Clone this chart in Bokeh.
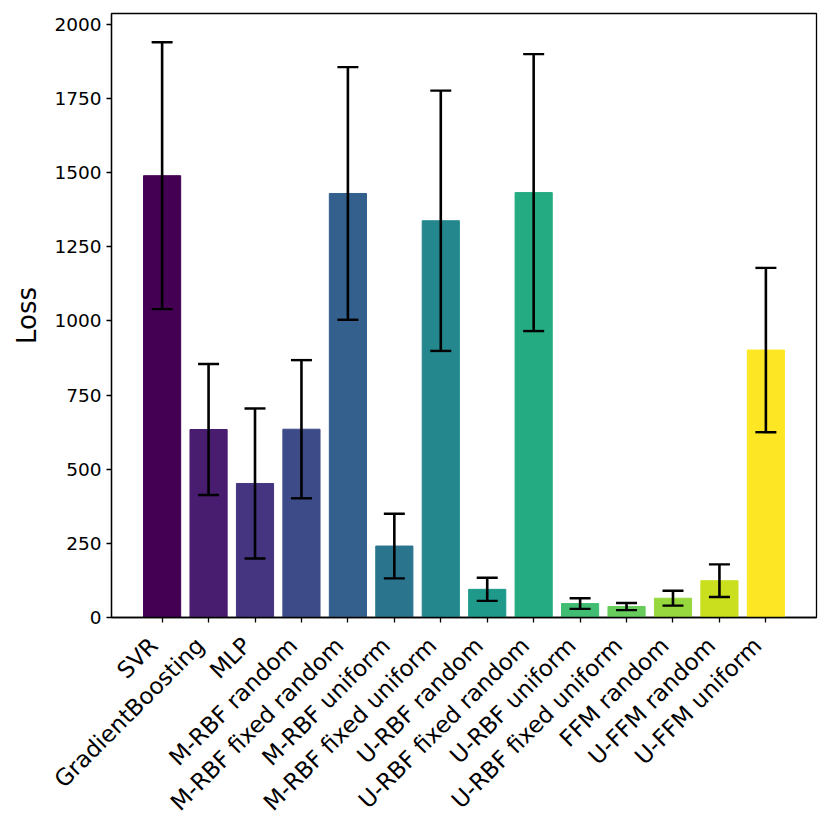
import numpy as np
from bokeh.plotting import figure
from bokeh.models import ColumnDataSource, Whisker, TeeHead, FixedTicker, Range1d, LinearAxis
from bokeh.palettes import Viridis256
from bokeh.embed import file_html
from bokeh.resources import INLINE

models = ["SVR", "GradientBoosting", "MLP", "M-RBF random", "M-RBF fixed random",
          "M-RBF uniform", "M-RBF fixed uniform", "U-RBF random", "U-RBF fixed random",
          "U-RBF uniform", "U-RBF fixed uniform", "FFM random", "U-FFM random", "U-FFM uniform"]
loss_mean = [1490, 634, 452, 635, 1430, 241, 1338, 95, 1433, 47, 37, 65, 124, 902]
loss_std = [450, 221, 253, 233, 426, 109, 439, 39, 467, 18, 12, 25, 55, 277]
y_ticks = [0, 250, 500, 750, 1000, 1250, 1500, 1750, 2000]

n = len(models)
xs = list(range(n))
colors = [Viridis256[int(round(i * 255 / (n - 1)))] for i in range(n)]
upper = [m + s for m, s in zip(loss_mean, loss_std)]
lower = [m - s for m, s in zip(loss_mean, loss_std)]

src = ColumnDataSource(dict(x=xs, top=loss_mean, color=colors, upper=upper, lower=lower))

x_lo, x_hi = -1.09, 14.09
shift = 0.18  # label offset in category units (matplotlib right-aligned rotated bbox)

p = figure(width=822, height=827, output_backend="svg", toolbar_location=None,
           x_range=Range1d(x_lo, x_hi), y_range=Range1d(0, 2037),
           min_border_left=111, min_border_right=6, min_border_top=13, min_border_bottom=210)
p.extra_x_ranges = {"labels": Range1d(x_lo + shift, x_hi + shift)}

p.vbar(x="x", top="top", width=0.8, fill_color="color", line_color="color", source=src)

w = Whisker(base="x", upper="upper", lower="lower", source=src, line_color="black", line_width=2.6,
            level="annotation",
            upper_head=TeeHead(size=21, line_color="black", line_width=2.4),
            lower_head=TeeHead(size=21, line_color="black", line_width=2.4))
p.add_layout(w)

p.xgrid.visible = False
p.ygrid.visible = False
p.outline_line_color = "black"
p.outline_line_width = 1.3
p.outline_line_alpha = 1

# main x axis: tick marks only
p.xaxis.ticker = FixedTicker(ticks=xs)
p.xaxis.major_label_overrides = {i: "" for i in xs}
p.xaxis.major_label_text_font_size = "1px"
p.xaxis.major_label_standoff = 0

# label axis (shifted so rotated labels end at their tick, as in the reference)
lab_axis = LinearAxis(x_range_name="labels", ticker=FixedTicker(ticks=xs),
                      major_label_overrides={i: m for i, m in enumerate(models)},
                      major_label_orientation=np.pi / 4,
                      major_label_text_font_size="23px",
                      major_label_text_font="DejaVu Sans",
                      major_label_text_color="black",
                      major_label_standoff=19,
                      axis_line_color=None, major_tick_line_color=None,
                      minor_tick_line_color=None, major_tick_in=0, major_tick_out=0)
p.add_layout(lab_axis, "below")

p.yaxis.ticker = FixedTicker(ticks=y_ticks)
p.yaxis.major_label_text_font_size = "18.5px"
p.yaxis.major_label_standoff = 5
p.yaxis.axis_label = "Loss"
p.yaxis.axis_label_text_font_size = "26px"
p.yaxis.axis_label_text_font_style = "normal"
p.yaxis.axis_label_text_color = "black"
p.yaxis.axis_label_standoff = 9

for ax in (p.xaxis[0], p.yaxis[0]):
    ax.major_label_text_font = "DejaVu Sans"
    ax.axis_label_text_font = "DejaVu Sans"
    ax.major_label_text_color = "black"
    ax.axis_line_color = "black"
    ax.axis_line_width = 1.3
    ax.major_tick_line_color = "black"
    ax.major_tick_line_width = 1.3
    ax.major_tick_in = 0
    ax.major_tick_out = 5
    ax.minor_tick_line_color = None

open("out.html", "w").write(file_html(p, INLINE))
